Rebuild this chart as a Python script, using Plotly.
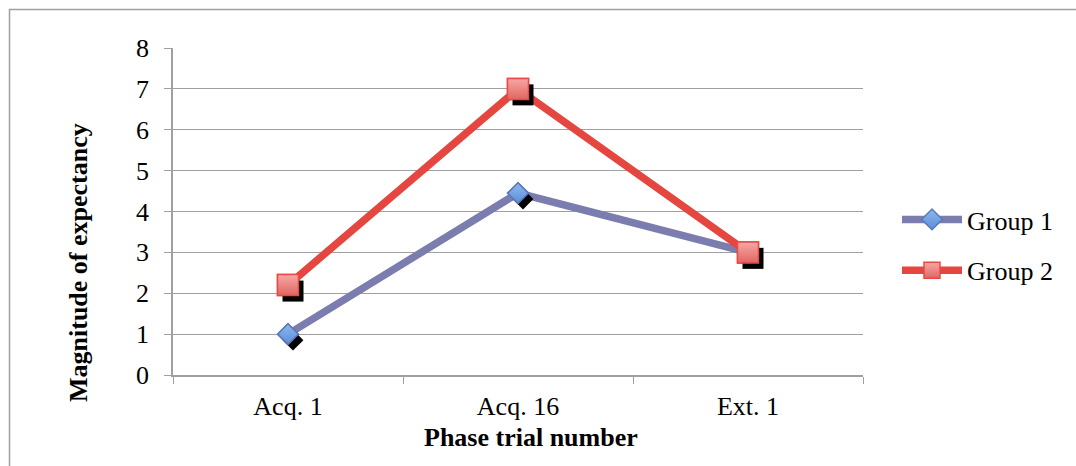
import plotly.graph_objects as go

categories = ["Acq. 1", "Acq. 16", "Ext. 1"]
group1 = [1.0, 4.45, 3.0]
group2 = [2.2, 7.0, 3.0]
y_ticks = [0, 1, 2, 3, 4, 5, 6, 7, 8]

# plot-area geometry (pixels) used for layout
W, H = 1076, 466
L, R, T, B = 173, 213, 48, 91
PW, PH = W - L - R, H - T - B

FONT = "Liberation Serif, Times New Roman, serif"
GRID = "#A0A0A0"
C1_LINE = "#7B7DAE"
C2_LINE = "#E5463F"

# shadow offsets in pixels -> axis units
XRANGE = [-0.5, 2.5]
YRANGE = [0, 8]
sx = 5 * (XRANGE[1] - XRANGE[0]) / PW
sy = 6 * (YRANGE[1] - YRANGE[0]) / PH

fig = go.Figure()

m1 = dict(symbol="diamond", size=16, color="#8DB8EE",
          gradient=dict(type="vertical", color="#5A8FD6"),
          line=dict(color="#5B78B8", width=1.5))
m2 = dict(symbol="square", size=21, color="#F6A8A6",
          gradient=dict(type="vertical", color="#E06660"),
          line=dict(color="#E84B44", width=1.5))

# lines (with legend) on main axes
fig.add_trace(go.Scatter(x=categories, y=group1, name="Group 1", mode="lines+markers",
                         line=dict(color=C1_LINE, width=7.5), marker=m1,
                         legendgroup="g1", xaxis="x", yaxis="y"))
fig.add_trace(go.Scatter(x=categories, y=group2, name="Group 2", mode="lines+markers",
                         line=dict(color=C2_LINE, width=7.5), marker=m2,
                         legendgroup="g2", xaxis="x", yaxis="y"))

# shadows on offset overlay axes
fig.add_trace(go.Scatter(x=categories, y=group1, mode="markers", showlegend=False,
                         marker=dict(symbol="diamond", size=16, color="black"),
                         xaxis="x2", yaxis="y2", hoverinfo="skip"))
fig.add_trace(go.Scatter(x=categories, y=group2, mode="markers", showlegend=False,
                         marker=dict(symbol="square", size=21, color="black"),
                         xaxis="x2", yaxis="y2", hoverinfo="skip"))

# markers on top
fig.add_trace(go.Scatter(x=categories, y=group1, mode="markers", showlegend=False,
                         marker=m1, xaxis="x3", yaxis="y3"))
fig.add_trace(go.Scatter(x=categories, y=group2, mode="markers", showlegend=False,
                         marker=m2, xaxis="x3", yaxis="y3"))

hidden = dict(visible=False, showgrid=False, zeroline=False)

def px_x(p):
    return (p - L) / PW

def px_y(p):
    return (H - B - p) / PH

fig.update_layout(
    width=W, height=H,
    margin=dict(l=L, r=R, t=T, b=B, pad=0),
    paper_bgcolor="white", plot_bgcolor="white",
    font=dict(family=FONT, size=26, color="black"),
    showlegend=True,
    xaxis=dict(type="category", categoryorder="array", categoryarray=categories,
               range=XRANGE, showgrid=False, zeroline=False,
               showline=True, linecolor=GRID, linewidth=1.5,
               ticks="outside", tickson="boundaries", ticklen=7, tickcolor=GRID,
               tickfont=dict(family=FONT, size=26), ticklabelstandoff=7),
    yaxis=dict(range=YRANGE, tickvals=y_ticks, showgrid=True, gridcolor=GRID, gridwidth=1,
               zeroline=False, showline=True, linecolor=GRID, linewidth=1.5,
               ticks="outside", ticklen=7, tickcolor=GRID,
               tickfont=dict(family=FONT, size=26), ticklabelstandoff=10),
    xaxis2=dict(type="category", categoryorder="array", categoryarray=categories,
                range=[XRANGE[0] - sx, XRANGE[1] - sx], overlaying="x", **hidden),
    yaxis2=dict(range=[YRANGE[0] + sy, YRANGE[1] + sy], overlaying="y", **hidden),
    xaxis3=dict(type="category", categoryorder="array", categoryarray=categories,
                range=XRANGE, overlaying="x", **hidden),
    yaxis3=dict(range=YRANGE, overlaying="y", **hidden),
    legend=dict(x=px_x(897), y=px_y(196), xanchor="left", yanchor="top",
                font=dict(family=FONT, size=26), itemwidth=60,
                tracegroupgap=14, bgcolor="rgba(0,0,0,0)"),
    annotations=[
        dict(text="<b>Phase trial number</b>", xref="paper", yref="paper",
             x=px_x(531), y=px_y(437), xanchor="center", yanchor="middle",
             showarrow=False, font=dict(family=FONT, size=26)),
        dict(text="<b>Magnitude of expectancy</b>", xref="paper", yref="paper",
             x=px_x(78), y=px_y(263), xanchor="center", yanchor="middle",
             textangle=-90, showarrow=False, font=dict(family=FONT, size=26)),
    ],
    shapes=[
        dict(type="rect", xref="paper", yref="paper", layer="below",
             x0=px_x(9.5), y0=px_y(H + 10), x1=px_x(W + 10), y1=px_y(9.5),
             line=dict(color="#A0A0A0", width=1.5), fillcolor="rgba(0,0,0,0)"),
    ],
)

fig.write_html("out.html")
